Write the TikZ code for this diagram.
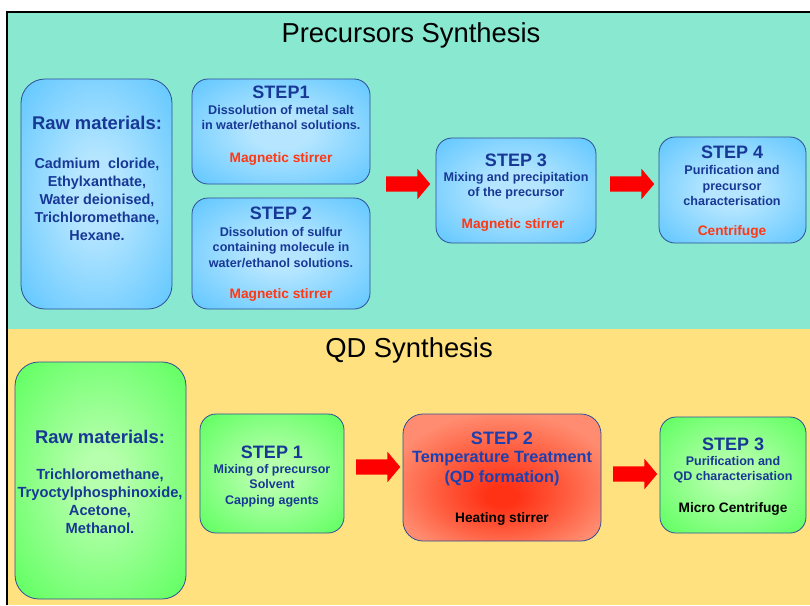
\documentclass[tikz,border=0pt]{standalone}
\usepackage{xcolor}
\usepackage{fontspec}
\setmainfont{Liberation Sans}
\usetikzlibrary{shapes.arrows}

\definecolor{panelteal}{RGB}{136,232,208}
\definecolor{panelyellow}{RGB}{255,225,128}
\definecolor{txtnavy}{RGB}{24,56,150}
\definecolor{txtblue}{RGB}{28,64,176}
\definecolor{txtred}{RGB}{255,56,20}
\definecolor{edgeblue}{RGB}{48,78,150}
\definecolor{blueout}{RGB}{100,200,255}
\definecolor{bluein}{RGB}{182,230,255}
\definecolor{greenout}{RGB}{104,255,104}
\definecolor{greenin}{RGB}{182,255,172}
\definecolor{redout}{RGB}{255,140,112}
\definecolor{redmid}{RGB}{255,95,65}
\definecolor{redin}{RGB}{255,50,22}

\pgfdeclareradialshading{blueglow}{\pgfpoint{0bp}{0bp}}{color(0bp)=(bluein); color(8bp)=(bluein); color(34bp)=(blueout); color(50bp)=(blueout)}
\pgfdeclareradialshading{greenglow}{\pgfpoint{0bp}{0bp}}{color(0bp)=(greenin); color(6bp)=(greenin); color(32bp)=(greenout); color(50bp)=(greenout)}
\pgfdeclareradialshading{redglow}{\pgfpoint{0bp}{-8bp}}{color(0bp)=(redin); color(4bp)=(redin); color(17bp)=(redmid); color(29bp)=(redout); color(50bp)=(redout)}

\tikzset{
	box/.style={draw=edgeblue, line width=0.8pt, shade, inner sep=0pt, rounded corners=16pt},
	bluebox/.style={box, shading=blueglow},
	greenbox/.style={box, shading=greenglow},
	redbox/.style={box, shading=redglow, rounded corners=20pt},
	paneltitle/.style={text=black, font=\fontsize{27.4}{32}\selectfont},
	rawtitle/.style={text=txtnavy, font=\bfseries\fontsize{18.4}{22}\selectfont},
	rawlist/.style={text=txtnavy, align=center, font=\bfseries\fontsize{14.4}{18}\selectfont},
	steptitle/.style={text=txtnavy, font=\bfseries\fontsize{18}{21}\selectfont},
	steptext/.style={text=txtnavy, align=center, font=\bfseries\fontsize{12.6}{15.5}\selectfont},
	tooltext/.style={text=txtred, font=\bfseries\fontsize{13.7}{16}\selectfont},
	blockarrow/.style={single arrow, fill=red, draw=none, inner sep=7.5pt, minimum height=44pt, minimum width=30pt, single arrow head extend=7.5pt, single arrow tip angle=100}
}

\begin{document}
\begin{tikzpicture}[x=1pt, y=-1pt]
	% Parameters
	\def\W{810}
	\def\H{605}
	\def\split{329}
	\def\fl{7}
	\def\ft{12}
	\useasboundingbox (0,0) rectangle (\W,\H);
	
	%panels
	\fill[white] (0,0) rectangle (\W,\H);
	\fill[panelteal] (\fl,\ft) rectangle (\W,\split);
	\fill[panelyellow] (\fl,\split) rectangle (\W,\H);
	\draw[line width=2pt, black] (\fl,\H) -- (\fl,\ft) -- (\W,\ft);
	
	\node[paneltitle] (ptitle) at (411,35) {Precursors Synthesis};
	\node[paneltitle] (qtitle) at (409,350) {QD Synthesis};
	
	%precursor blocks
	\node[bluebox, rounded corners=24pt, minimum width=151pt, minimum height=230pt] (rawA) at (96.5,194) {};
	\node[bluebox, minimum width=178pt, minimum height=105pt] (stepAi) at (281,131.5) {};
	\node[bluebox, minimum width=178pt, minimum height=111pt] (stepAii) at (281,253.5) {};
	\node[bluebox, minimum width=160pt, minimum height=105pt] (stepAiii) at (516,190.5) {};
	\node[bluebox, minimum width=147pt, minimum height=106pt] (stepAiv) at (732.5,190) {};
	
	\node[blockarrow] (arrAi) at (405,184) {};
	\node[blockarrow] (arrAii) at (629,184) {};
	
	%precursor texts
	\node[rawtitle] (rawAt) at (97,123) {Raw materials:};
	\node[rawlist] (rawAl) at (97,199) {Cadmium~ cloride,\\Ethylxanthate,\\Water deionised,\\Trichloromethane,\\Hexane.};
	
	\node[steptitle] (stepAit) at (281,92) {STEP1};
	\node[steptext] (stepAib) at (281,117.5) {Dissolution of metal salt\\in water/ethanol solutions.};
	\node[tooltext] (stepAiu) at (281,159) {Magnetic stirrer};
	
	\node[steptitle] (stepAiit) at (281,213) {STEP 2};
	\node[steptext] (stepAiib) at (281,247.5) {Dissolution of sulfur\\containing molecule in\\water/ethanol solutions.};
	\node[tooltext] (stepAiiu) at (281,295) {Magnetic stirrer};
	
	\node[steptitle] (stepAiiit) at (516,160) {STEP 3};
	\node[steptext] (stepAiiib) at (516,185.5) {Mixing and precipitation\\of the precursor};
	\node[tooltext] (stepAiiiu) at (513,225) {Magnetic stirrer};
	
	\node[steptitle] (stepAivt) at (732,152) {STEP 4};
	\node[steptext] (stepAivb) at (732,185.5) {Purification and\\precursor\\characterisation};
	\node[tooltext] (stepAivu) at (732,232) {Centrifuge};
	
	%QD blocks
	\node[greenbox, rounded corners=24pt, minimum width=171pt, minimum height=237pt] (rawB) at (100.5,480.5) {};
	\node[greenbox, minimum width=144pt, minimum height=119pt] (stepBi) at (272,473.5) {};
	\node[redbox, minimum width=198pt, minimum height=127pt] (stepBii) at (502,477.5) {};
	\node[greenbox, minimum width=146pt, minimum height=116pt] (stepBiii) at (733,475) {};
	
	\node[blockarrow] (arrBi) at (375,467) {};
	\node[blockarrow] (arrBii) at (632,474) {};
	
	%QD texts
	\node[rawtitle] (rawBt) at (100,437) {Raw materials:};
	\node[rawlist, font=\bfseries\fontsize{14.7}{18}\selectfont] (rawBl) at (100,501) {Trichloromethane,\\Tryoctylphosphinoxide,\\Acetone,\\Methanol.};
	
	\node[steptitle] (stepBit) at (272,452) {STEP 1};
	\node[steptext, font=\bfseries\fontsize{12.5}{15.5}\selectfont] (stepBib) at (272,485.5) {Mixing of precursor\\Solvent\\Capping agents};
	
	\node[steptitle, text=txtblue] (stepBiit) at (502,438) {STEP 2};
	\node[steptext, text=txtblue, font=\bfseries\fontsize{16.3}{19.5}\selectfont] (stepBiib) at (502,468.5) {Temperature Treatment\\(QD formation)};
	\node[tooltext, text=black] (stepBiiu) at (502,519) {Heating stirrer};
	
	\node[steptitle] (stepBiiit) at (733,444) {STEP 3};
	\node[steptext, font=\bfseries\fontsize{12.5}{15}\selectfont] (stepBiiib) at (733,469.5) {Purification and\\QD characterisation};
	\node[tooltext, text=black] (stepBiiiu) at (733,509) {Micro Centrifuge};
\end{tikzpicture}
\end{document}
